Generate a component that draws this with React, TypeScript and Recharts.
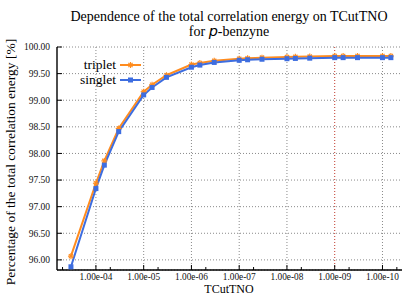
import { LineChart, Line, XAxis, YAxis, CartesianGrid, ReferenceLine } from "recharts";

const TCUT = [
  3.333e-4, 1e-4, 6.667e-5, 3.333e-5, 1e-5, 6.667e-6, 3.333e-6, 1e-6, 6.667e-7, 3.333e-7, 1e-7,
  6.667e-8, 3.333e-8, 1e-8, 6.667e-9, 3.333e-9, 1e-9, 6.667e-10, 3.333e-10, 1e-10, 6.667e-11,
];
const SINGLET = [
  95.87, 97.34, 97.78, 98.41, 99.1, 99.24, 99.43, 99.62, 99.66, 99.71, 99.75,
  99.76, 99.77, 99.78, 99.785, 99.79, 99.8, 99.8, 99.8, 99.8, 99.8,
];
const TRIPLET = [
  96.07, 97.44, 97.86, 98.47, 99.16, 99.29, 99.47, 99.67, 99.7, 99.74, 99.78,
  99.79, 99.8, 99.81, 99.815, 99.82, 99.83, 99.83, 99.83, 99.83, 99.83,
];

const X_TICKS = [1e-4, 1e-5, 1e-6, 1e-7, 1e-8, 1e-9, 1e-10];
const X_TICK_LABELS = ["1.00e-04", "1.00e-05", "1.00e-06", "1.00e-07", "1.00e-08", "1.00e-09", "1.00e-10"];
const X_MINOR = [5e-4, 5e-5, 5e-6, 5e-7, 5e-8, 5e-9, 5e-10, 5e-11];
const Y_TICKS = [96, 96.5, 97, 97.5, 98, 98.5, 99, 99.5, 100];
const HIGHLIGHT = 1e-9;

const ORANGE = "#ff8c1f";
const BLUE = "#3d6de0";
const FONT = "'Liberation Serif', 'DejaVu Serif', serif";

const data = TCUT.map((t, i) => ({ t, singlet: SINGLET[i], triplet: TRIPLET[i] }));
const allX = [...X_TICKS, ...X_MINOR];

const BottomTick = (props: any) => {
  const { x, y, payload } = props;
  const i = X_TICKS.indexOf(payload.value);
  return (
    <g>
      <line x1={x} x2={x} y1={y} y2={y - (i >= 0 ? 5 : 3)} stroke="#000" />
      {i >= 0 && (
        <text x={x} y={y + 10} textAnchor="middle" fontSize={9.3} fontFamily={FONT} fill="#111">
          {X_TICK_LABELS[i]}
        </text>
      )}
    </g>
  );
};

const TopTick = (props: any) => {
  const { x, y, payload } = props;
  const major = X_TICKS.includes(payload.value);
  return <line x1={x} x2={x} y1={y} y2={y + (major ? 5 : 3)} stroke="#000" />;
};

const LeftTick = (props: any) => {
  const { x, y, payload } = props;
  return (
    <g>
      <line x1={x} x2={x + 5} y1={y} y2={y} stroke="#000" />
      <text x={x - 7} y={y} dy="0.35em" textAnchor="end" fontSize={9.5} fontFamily={FONT} fill="#111">
        {payload.value.toFixed(2)}
      </text>
    </g>
  );
};

const RightTick = (props: any) => {
  const { x, y } = props;
  return <line x1={x} x2={x - 5} y1={y} y2={y} stroke="#000" />;
};

const Star = (props: any) => {
  const { cx, cy } = props;
  if (cx == null || cy == null) return null;
  const r = 3;
  return (
    <g stroke={ORANGE} strokeWidth={1.2}>
      <line x1={cx - r} x2={cx + r} y1={cy} y2={cy} />
      <line x1={cx} x2={cx} y1={cy - r} y2={cy + r} />
      <line x1={cx - r * 0.7} x2={cx + r * 0.7} y1={cy - r * 0.7} y2={cy + r * 0.7} />
      <line x1={cx - r * 0.7} x2={cx + r * 0.7} y1={cy + r * 0.7} y2={cy - r * 0.7} />
    </g>
  );
};

const Square = (props: any) => {
  const { cx, cy } = props;
  if (cx == null || cy == null) return null;
  return <rect x={cx - 2.5} y={cy - 2.5} width={5} height={5} fill={BLUE} />;
};

export default function App() {
  return (
    <div style={{ position: "absolute", left: 0, top: 0, background: "#fff" }}>
      <LineChart width={406} height={295} data={data} margin={{ top: 47, right: 4, bottom: 0, left: 0 }}>
        <CartesianGrid vertical={false} stroke="#8a8a8a" strokeDasharray="1 2" />
        {X_TICKS.map((t) => (
          <ReferenceLine
            key={t}
            x={t}
            stroke={t === HIGHLIGHT ? "#c0392b" : "#8a8a8a"}
            strokeDasharray="1 2"
          />
        ))}
        <XAxis
          dataKey="t"
          type="number"
          scale="log"
          domain={[3.9e-11, 6.53e-4]}
          allowDataOverflow
          reversed
          ticks={allX}
          interval={0}
          tickSize={0}
          tickMargin={0}
          height={25}
          tick={<BottomTick />}
          axisLine={{ stroke: "#000", strokeWidth: 1.4 }}
        />
        <XAxis
          xAxisId="top"
          dataKey="t"
          type="number"
          scale="log"
          domain={[3.9e-11, 6.53e-4]}
          allowDataOverflow
          reversed
          orientation="top"
          ticks={allX}
          interval={0}
          tickSize={0}
          tickMargin={0}
          height={0}
          tick={<TopTick />}
          axisLine={{ stroke: "#000", strokeWidth: 1.4 }}
        />
        <YAxis
          type="number"
          domain={[95.81, 100]}
          allowDataOverflow
          ticks={Y_TICKS}
          interval={0}
          tickSize={0}
          tickMargin={0}
          width={57}
          tick={<LeftTick />}
          axisLine={{ stroke: "#000", strokeWidth: 1.4 }}
        />
        <YAxis
          yAxisId="right"
          orientation="right"
          type="number"
          domain={[95.81, 100]}
          allowDataOverflow
          ticks={Y_TICKS}
          interval={0}
          tickSize={0}
          tickMargin={0}
          width={0}
          tick={<RightTick />}
          axisLine={{ stroke: "#000", strokeWidth: 1.4 }}
        />
        <Line
          dataKey="triplet"
          stroke={ORANGE}
          strokeWidth={2}
          dot={<Star />}
          isAnimationActive={false}
        />
        <Line
          dataKey="singlet"
          stroke={BLUE}
          strokeWidth={2}
          dot={<Square />}
          isAnimationActive={false}
        />
        <text x={229} y={21} textAnchor="middle" fontSize={14} fontFamily={FONT} fill="#000">
          Dependence of the total correlation energy on TCutTNO
        </text>
        <text x={229} y={36} textAnchor="middle" fontSize={14} fontFamily={FONT} fill="#000">
          for <tspan fontStyle="italic" fontFamily="'DejaVu Sans', sans-serif" fontSize={14.5}>p</tspan>-benzyne
        </text>
        <text x={229} y={293} textAnchor="middle" fontSize={12} fontFamily={FONT} fill="#000">
          TCutTNO
        </text>
        <text
          x={0}
          y={0}
          transform="translate(15 162) rotate(-90)"
          textAnchor="middle"
          fontSize={13.5}
          fontFamily={FONT}
          fill="#000"
        >
          Percentage of the total correlation energy [%]
        </text>
        <g fontFamily={FONT} fontSize={13.5} fill="#000">
          <text x={116} y={69} textAnchor="end">triplet</text>
          <line x1={120} x2={141} y1={65} y2={65} stroke={ORANGE} strokeWidth={2} />
          <Star cx={130.5} cy={65} />
          <text x={116} y={84} textAnchor="end">singlet</text>
          <line x1={120} x2={141} y1={80} y2={80} stroke={BLUE} strokeWidth={2} />
          <Square cx={130.5} cy={80} />
        </g>
      </LineChart>
    </div>
  );
}
